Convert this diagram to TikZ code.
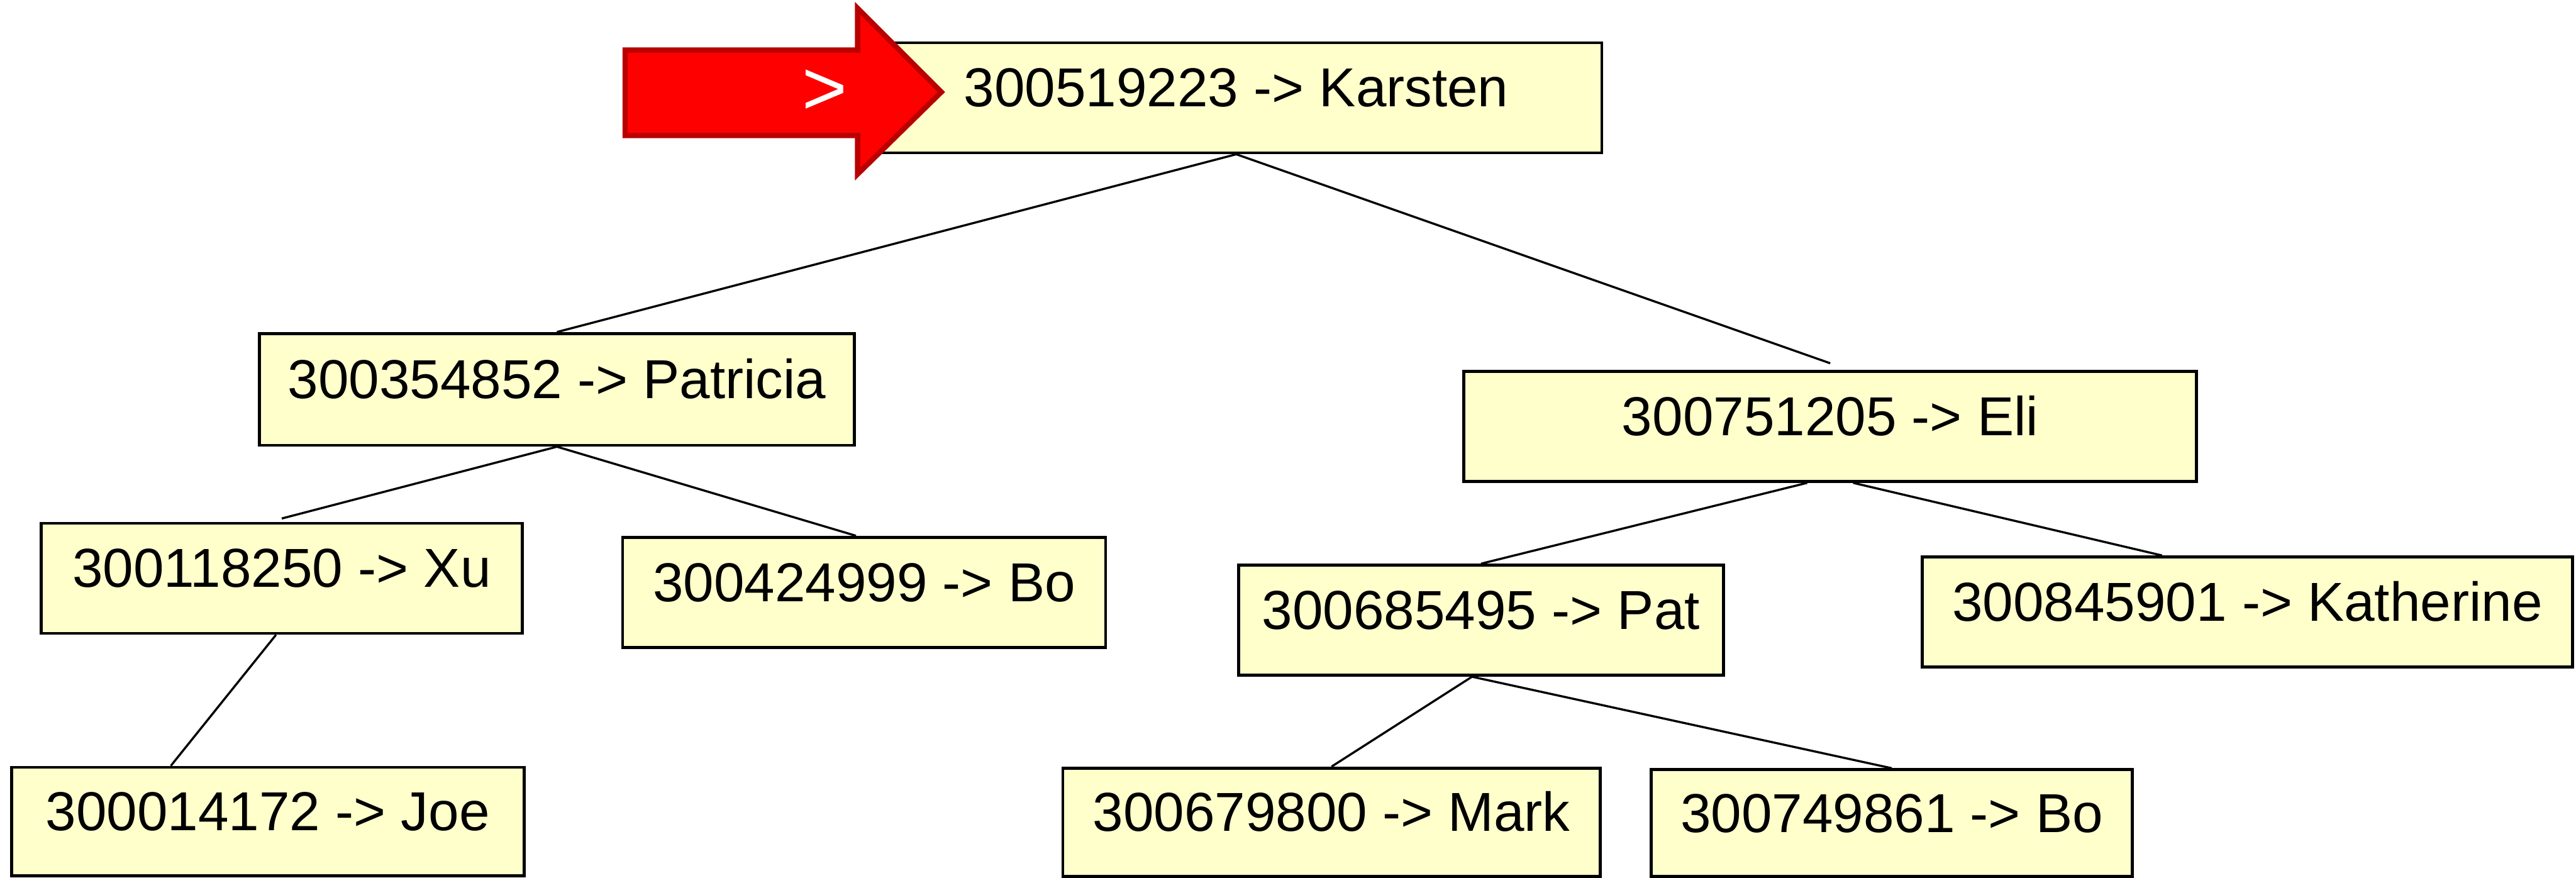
\documentclass[tikz,border=0pt]{standalone}
\usepackage{fontspec}
\setmainfont{Liberation Sans}
\definecolor{boxyellow}{RGB}{255,255,204}
\definecolor{arrowred}{RGB}{255,0,0}
\definecolor{arrowdark}{RGB}{185,0,0}
\tikzset{
  keybox/.style={draw=black, line width=1.8pt, fill=boxyellow, inner sep=0pt,
    minimum height=67pt, text height=24pt, text depth=13pt,
    font=\fontsize{33.4}{40}\selectfont},
  link/.style={draw=black, line width=1.3pt}
}
\begin{document}
\begin{tikzpicture}[x=1pt,y=-1pt]
\useasboundingbox (0,0) rectangle (1568,534.2);
% nodes
\node[keybox, minimum width=445pt] (karsten) at (752.5,59.5) {300519223 -> Karsten};
\node[keybox, minimum width=362pt, minimum height=68pt] (patricia) at (339,237) {300354852 -> Patricia};
\node[keybox, minimum width=293pt] (xu) at (171.5,352) {300118250 -> Xu};
\node[keybox, minimum width=294pt] (boL) at (526,360.5) {300424999 -> Bo};
\node[keybox, minimum width=312pt, minimum height=66pt] (joe) at (163,500) {300014172 -> Joe};
\node[keybox, minimum width=446pt] (eli) at (1114,259.5) {300751205 -> Eli};
\node[keybox, minimum width=295pt] (pat) at (901.5,377.5) {300685495 -> Pat};
\node[keybox, minimum width=396pt] (katherine) at (1368,372.5) {300845901 -> Katherine};
\node[keybox, minimum width=327pt, minimum height=66pt] (mark) at (810.5,500.5) {300679800 -> Mark};
\node[keybox, minimum width=293pt, minimum height=65pt] (boR) at (1151.5,501) {300749861 -> Bo};
% connectors
\draw[link] (karsten.south) -- (patricia.north);
\draw[link] (karsten.south) -- ([yshift=4pt]eli.north);
\draw[link] (patricia.south) -- ([yshift=2pt]xu.north);
\draw[link] (patricia.south) -- ([xshift=-5pt]boL.north);
\draw[link] ([xshift=-3.5pt]xu.south) -- ([xshift=-59pt]joe.north);
\draw[link] ([xshift=-14pt]eli.south) -- (pat.north);
\draw[link] ([xshift=14pt]eli.south) -- ([xshift=-52pt]katherine.north);
\draw[link] ([xshift=-5.5pt]pat.south) -- (mark.north);
\draw[link] ([xshift=-5.5pt]pat.south) -- (boR.north);
% pointer arrow
\draw[fill=arrowred, draw=arrowdark, line width=3.2pt, line join=miter]
  (380.5,30.5) -- (522,30.5) -- (522,5) -- (573,56) -- (522,106) -- (522,82.5) -- (380.5,82.5) -- cycle;
\node[text=white, inner sep=0pt, anchor=base, font=\fontsize{47}{50}\selectfont] (cursor) at (502,70) {>};
\end{tikzpicture}
\end{document}
